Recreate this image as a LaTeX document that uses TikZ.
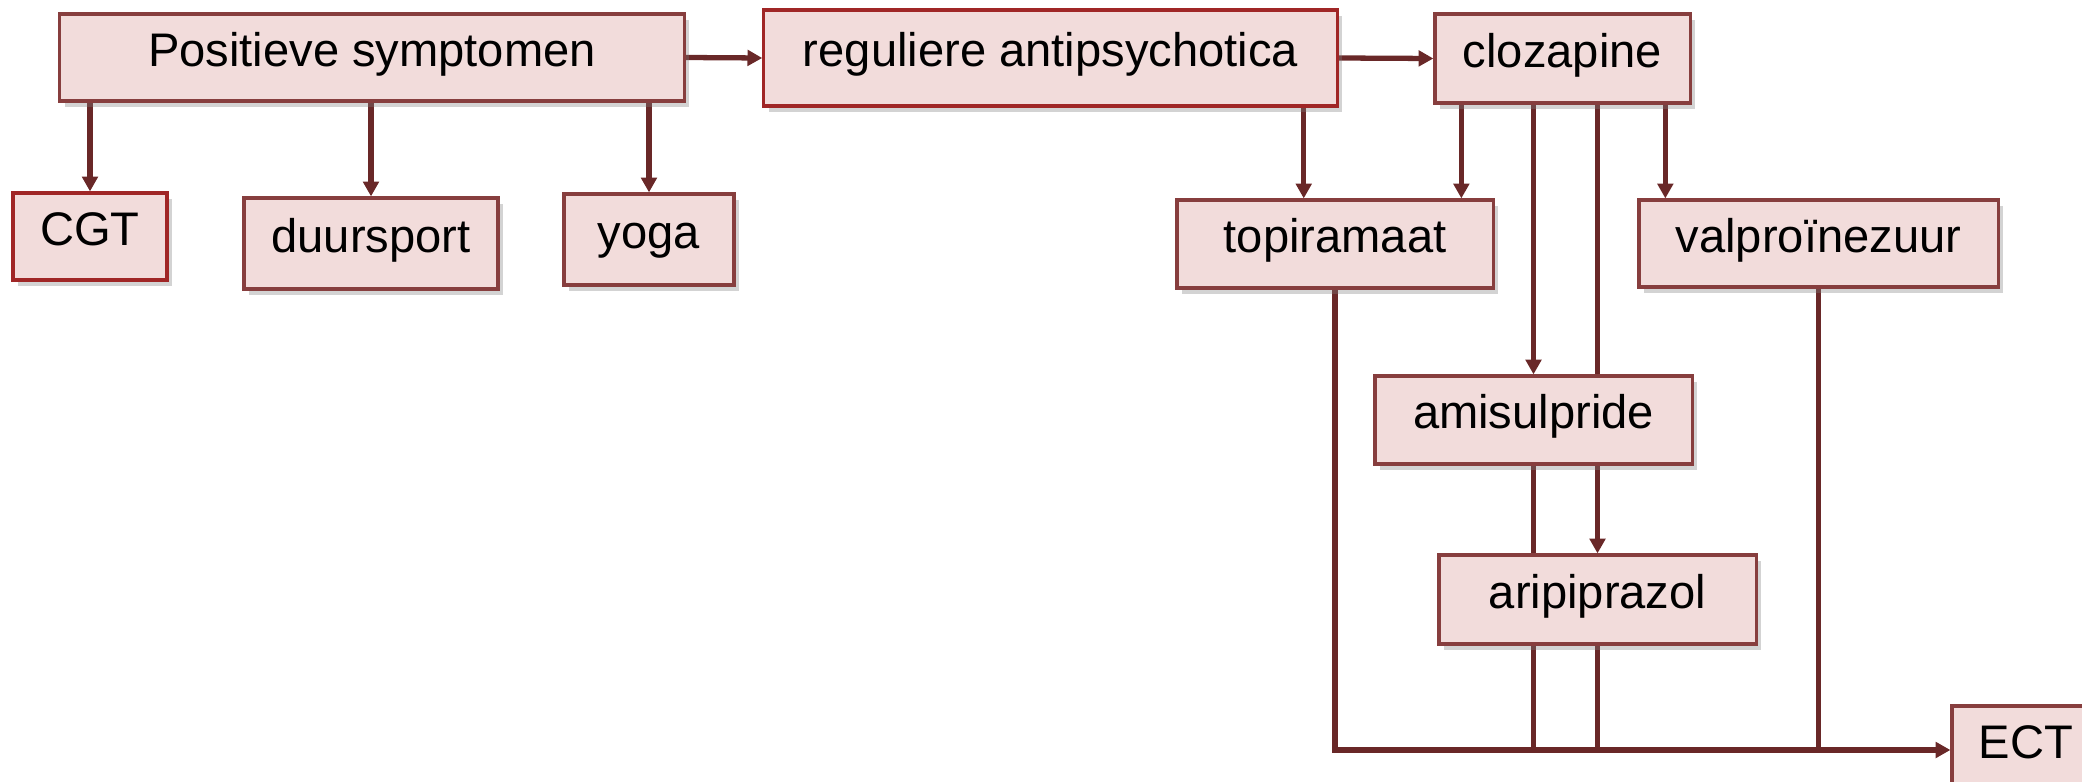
\documentclass[tikz,border=0pt]{standalone}
\usepackage{fontspec}
\setmainfont{Liberation Sans}
\usetikzlibrary{arrows.meta,shadows,backgrounds}

\definecolor{boxfill}{RGB}{242,220,219}
\definecolor{boxline}{RGB}{135,62,62}
\definecolor{boxred}{RGB}{160,38,38}
\definecolor{linkc}{RGB}{105,40,40}

\tikzset{
	box/.style={draw=boxline, line width=0.9pt, fill=boxfill, inner sep=0pt,
		text height=0.75em, text depth=0.25em, font=\fontsize{13.4}{16}\selectfont,
		drop shadow={shadow xshift=0.05cm, shadow yshift=-0.06cm, opacity=0.35}},
	redbox/.style={box, draw=boxred},
	link/.style={draw=linkc, line width=1.5pt, -{Triangle[length=4.2pt,width=4.4pt]}},
	plain/.style={draw=linkc, line width=1.5pt},
}

\begin{document}
\begin{tikzpicture}[x=0.01cm, y=-0.01cm]
	\useasboundingbox (0,0) rectangle (2082,782);
	% top row
	\node[box, minimum width=6.24cm, minimum height=0.87cm] (pos) at (372, 57.5) {Positieve symptomen};
	\node[redbox, minimum width=5.73cm, minimum height=0.96cm] (reg) at (1050.5, 58) {reguliere antipsychotica};
	\node[box, minimum width=2.55cm, minimum height=0.89cm] (clo) at (1562.5, 58.5) {clozapine};
	% second row
	\node[redbox, minimum width=1.54cm, minimum height=0.87cm] (cgt) at (90, 236.5) {CGT};
	\node[box, minimum width=2.54cm, minimum height=0.91cm] (duur) at (371, 243.5) {duursport};
	\node[box, minimum width=1.70cm, minimum height=0.91cm] (yoga) at (649, 239.5) {yoga};
	\node[box, minimum width=3.16cm, minimum height=0.88cm] (top) at (1335, 244) {topiramaat};
	\node[box, minimum width=3.59cm, minimum height=0.87cm] (val) at (1818.5, 243.5) {valproïnezuur};
	% lower boxes
	\node[box, minimum width=3.17cm, minimum height=0.88cm] (ami) at (1533.5, 420) {amisulpride};
	\node[box, minimum width=3.17cm, minimum height=0.89cm] (ari) at (1597.5, 599.5) {aripiprazol};
	\node[box, minimum width=1.48cm, minimum height=0.88cm] (ect) at (2026, 750) {ECT};
	\begin{scope}[on background layer]
		\draw[link] (pos.south -| cgt.north) to (cgt.north);
		\draw[link] (pos.south -| duur.north) to (duur.north);
		\draw[link] (pos.south -| yoga.north) to (yoga.north);
		\draw[link] (pos.east) to (reg.west);
		\draw[link] (reg.east) to (clo.west);
		\draw[link] ([xshift=-0.35cm]reg.south east) to ([xshift=-0.35cm]reg.south east |- top.north);
		\draw[link] ([xshift=0.28cm]clo.south west) to ([xshift=0.28cm]clo.south west |- top.north);
		\draw[link] (clo.south -| ami.north) to (ami.north);
		\draw[link] (clo.south -| ari.north) to (ari.north);
		\draw[link] ([xshift=0.28cm]val.north west |- clo.south) to ([xshift=0.28cm]val.north west);
		\draw[link] (top.south) |- (ect.west);
		\draw[plain] (ami.south) to (ami.south |- ect.west);
		\draw[plain] (ari.south) to (ari.south |- ect.west);
		\draw[plain] (val.south) to (val.south |- ect.west);
	\end{scope}
\end{tikzpicture}
\end{document}
